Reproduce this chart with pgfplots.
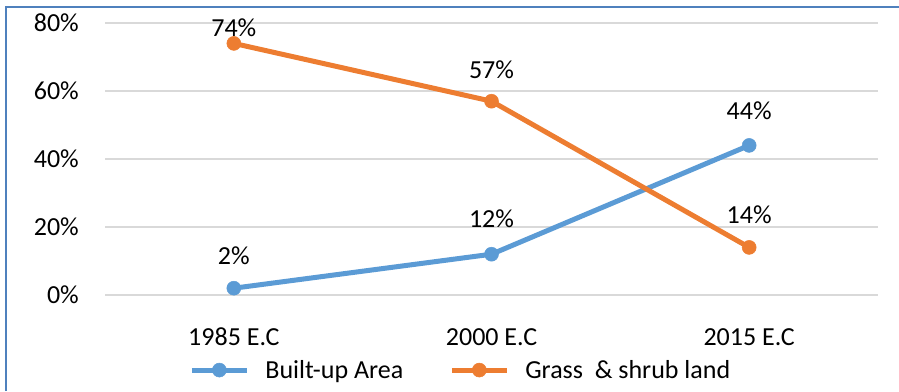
\documentclass[border=0pt]{standalone}
\usepackage{fontspec}
\setmainfont{Carlito}
\usepackage{pgfplots}
\usepackage{pgfplotstable}
\pgfplotsset{compat=1.18}

\definecolor{builtblue}{HTML}{5B9BD5}
\definecolor{grassorange}{HTML}{ED7D31}
\definecolor{gridgrey}{HTML}{D9D9D9}
\definecolor{frameblue}{HTML}{4F81BD}

% share of land cover (%), with the vertical offset of each value label (bp)
\pgfplotstableread{
x share off
0 2  32
1 12 35
2 44 35
}\builtup
\pgfplotstableread{
x share off
0 74 16
1 57 31
2 14 33
}\grass

\newcommand{\chartfont}{\fontsize{26bp}{31bp}\selectfont}

\begin{document}
\begin{tikzpicture}[x=1bp,y=1bp]
\useasboundingbox (0,0) rectangle (899,391);
\draw[frameblue, line width=2.5bp] (6,0) -- (6,384) -- (899,384);
\begin{axis}[
  at={(105bp,96bp)}, anchor=south west,
  scale only axis, width=773bp, height=272bp,
  xmin=-0.5, xmax=2.5, ymin=0, ymax=80,
  clip=false,
  xtick={0,1,2},
  xticklabels={1985 E.C, 2000 E.C, 2015 E.C},
  ytick={0,20,40,60,80},
  yticklabel={\pgfmathprintnumber{\tick}\%},
  /pgf/number format/assume math mode=true,
  axis line style={draw=none},
  major tick length=0pt,
  ymajorgrids,
  grid style={gridgrey, line width=1.5bp},
  tick label style={font=\chartfont},
  yticklabel style={anchor=east, inner sep=0pt, xshift=-26bp},
  xticklabel style={anchor=north, inner sep=0pt, yshift=-33bp},
  every node near coord/.append style={font=\chartfont, text=black, anchor=center, inner sep=0pt},
  legend columns=2,
  legend style={
    at={(0.459,-0.276)}, anchor=center,
    draw=none, fill=none, font=\chartfont,
    nodes={inner sep=0pt, anchor=west},
    /tikz/every odd column/.append style={column sep=16bp},
    /tikz/every even column/.append style={column sep=46bp},
  },
  legend image code/.code={
    \draw[mark repeat=2, mark phase=2, #1] plot coordinates {(0bp,0bp) (27.5bp,0bp) (55bp,0bp)};
  },
]
\addplot[builtblue, line width=5bp, mark=*, mark size=7bp,
  mark options={solid, fill=builtblue, draw=builtblue, line width=0.5bp},
  point meta=y,
  nodes near coords={\pgfmathprintnumber{\pgfplotspointmeta}\%},
  visualization depends on={\thisrow{off} \as \off},
  nodes near coords style={yshift=\off*1bp}]
  table[x=x, y=share] {\builtup};
\addlegendentry{Built-up Area}

\addplot[grassorange, line width=5bp, mark=*, mark size=7bp,
  mark options={solid, fill=grassorange, draw=grassorange, line width=0.5bp},
  point meta=y,
  nodes near coords={\pgfmathprintnumber{\pgfplotspointmeta}\%},
  visualization depends on={\thisrow{off} \as \off},
  nodes near coords style={yshift=\off*1bp}]
  table[x=x, y=share] {\grass};
\addlegendentry{Grass\ \ \& shrub land}
\end{axis}
\end{tikzpicture}
\end{document}
